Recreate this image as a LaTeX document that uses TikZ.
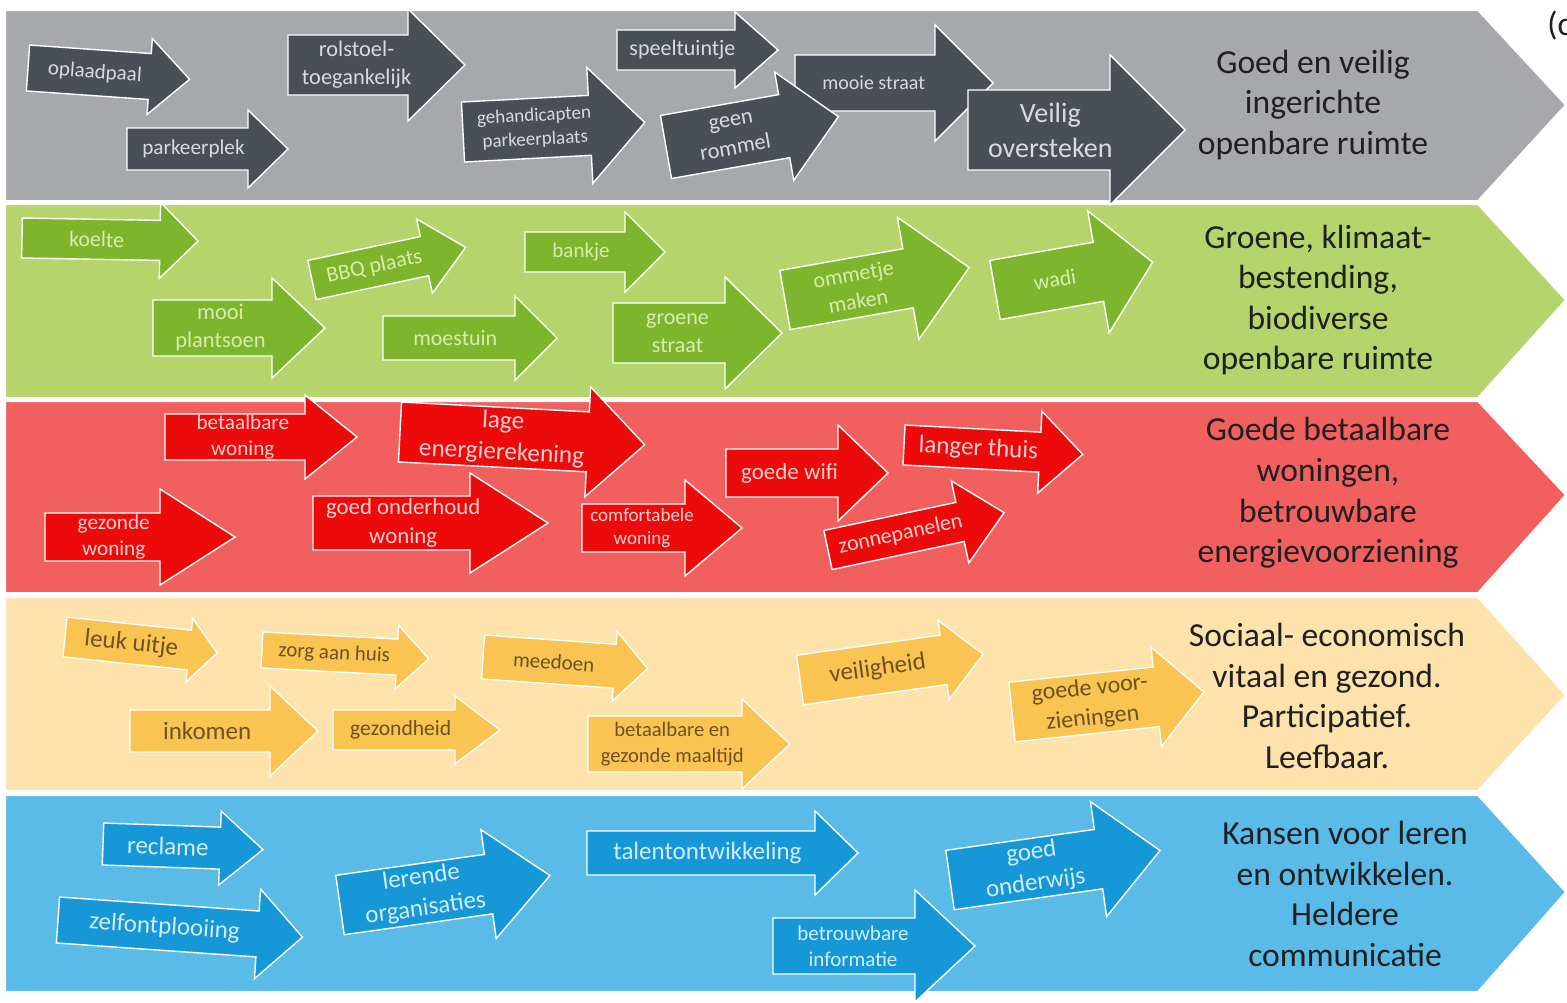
\documentclass[tikz,border=0pt]{standalone}
\usepackage{fontspec}
\setmainfont{Carlito}
\definecolor{gyband}{HTML}{A6A8AB}
\definecolor{gyarr}{HTML}{4A4F55}
\definecolor{gytext}{HTML}{D9DADB}
\definecolor{grband}{HTML}{B5D56C}
\definecolor{grarr}{HTML}{7DB62C}
\definecolor{grtext}{HTML}{D8ECB0}
\definecolor{rdband}{HTML}{F25F5F}
\definecolor{rdarr}{HTML}{EC0A0A}
\definecolor{rdtext}{HTML}{FFCFCF}
\definecolor{ylband}{HTML}{FDE3AB}
\definecolor{ylarr}{HTML}{F9C452}
\definecolor{yltext}{HTML}{6E5224}
\definecolor{blband}{HTML}{5ABBE8}
\definecolor{blarr}{HTML}{1597D8}
\definecolor{bltext}{HTML}{D2ECF9}
\definecolor{lbltext}{HTML}{202020}
\newcommand\fz[1]{\fontsize{#1}{\fpeval{1.25*#1}}\selectfont}
\pgfkeys{/barw/.cd,
 px/.store in=\bwX, py/.store in=\bwY, rot/.store in=\bwR,
 L/.store in=\bwL, bh/.store in=\bwB, hl/.store in=\bwHL, hh/.store in=\bwHH,
 fs/.store in=\bwF,
 c/.code={\tikzset{bwf/.style={#1},bwt/.style={#1txt}}}}
\newcommand\barw[3]{\begingroup
 \pgfkeys{/barw/.cd,rot=0,fs=10.5,#1}%
 \begin{scope}[shift={(\bwX,-\bwY)},rotate=\bwR]
  \path[bwf] (0,-\bwB) -- (\bwL,-\bwB) -- (\bwL,-\bwHH) -- ({\bwL+\bwHL},0) -- (\bwL,\bwHH) -- (\bwL,\bwB) -- (0,\bwB) -- cycle;
  \node[bwt,transform shape,font=\fz{\bwF}] (#2) at ({\bwL/2+0.15*\bwHL},0) {#3};
 \end{scope}\endgroup}
\tikzset{
 band/.style={draw=white,line width=1pt},
 arrbase/.style={draw=white,line width=0.7pt},
 txtbase/.style={align=center,inner sep=0pt},
 gy/.style={arrbase,fill=gyarr}, gytxt/.style={txtbase,text=gytext},
 gr/.style={arrbase,fill=grarr}, grtxt/.style={txtbase,text=grtext},
 rd/.style={arrbase,fill=rdarr}, rdtxt/.style={txtbase,text=rdtext},
 yl/.style={arrbase,fill=ylarr}, yltxt/.style={txtbase,text=yltext},
 bl/.style={arrbase,fill=blarr}, bltxt/.style={txtbase,text=bltext},
 lbl/.style={align=center,inner sep=0pt,text=lbltext,font=\fontsize{16.8}{20.3}\selectfont}
}
\begin{document}
\begin{tikzpicture}[x=0.5pt,y=0.5pt]
\useasboundingbox (0,0) rectangle (1567,-1002);
\clip (0,0) rectangle (1567,-1002);
\fill[white] (0,0) rectangle (1567,-1002);
% bands
\path[band,fill=gyband] (5,-10) -- (1478,-10) -- (1566,-105) -- (1478,-201) -- (5,-201) -- cycle;
\path[band,fill=grband] (5,-204) -- (1478,-204) -- (1566,-300) -- (1478,-398) -- (5,-398) -- cycle;
\path[band,fill=rdband] (5,-401) -- (1478,-401) -- (1566,-495) -- (1478,-593) -- (5,-593) -- cycle;
\path[band,fill=ylband] (5,-597) -- (1478,-597) -- (1566,-695) -- (1478,-791) -- (5,-791) -- cycle;
\path[band,fill=blband] (5,-795) -- (1478,-795) -- (1566,-892) -- (1478,-992) -- (5,-992) -- cycle;
\node[anchor=base west,inner sep=0pt,text=lbltext,font=\fontsize{16.8}{20.3}\selectfont] (cpart) at (1547,-35) {(c};
% gray band
\barw{c=gy,px=28,py=68,rot=-4,L=122,bh=23,hl=40,hh=38,fs=10.5}{oplaadpaal}{oplaadpaal}
\barw{c=gy,px=127,py=149,L=121,bh=21,hl=40,hh=39,fs=10.6}{parkeerplek}{parkeerplek}
\barw{c=gy,px=288,py=65,L=120,bh=30,hl=57,hh=56,fs=11.2}{rolstoel}{rolstoel-\\toegankelijk}
\barw{c=gy,px=463,py=132,rot=3,L=127,bh=30,hl=55,hh=58,fs=9.5}{gehandicapten}{gehandicapten\\parkeerplaats}
\barw{c=gy,px=617,py=50,L=118,bh=20,hl=43,hh=38,fs=11}{speeltuintje}{speeltuintje}
\barw{c=gy,px=795,py=83,L=140,bh=28,hl=58,hh=58,fs=10}{mooiestraat}{mooie straat}
\barw{c=gy,px=666,py=147,rot=10,L=120,bh=32,hl=55,hh=55,fs=11.2}{geenrommel}{geen\\rommel}
\barw{c=gy,px=968,py=130,L=142,bh=40,hl=75,hh=75,fs=14}{veilig}{Veilig\\oversteken}
\node[lbl] (lab1) at (1313,-105) {Goed en veilig\\ingerichte\\openbare ruimte};
% green band
\barw{c=gr,px=22,py=238,rot=-1,L=138,bh=20,hl=38,hh=38,fs=11}{koelte}{koelte}
\barw{c=gr,px=153,py=328,L=119,bh=28,hl=53,hh=50,fs=11.2}{plantsoen}{mooi\\plantsoen}
\barw{c=gr,px=312,py=280,rot=12,L=115,bh=20,hl=42,hh=38,fs=11}{bbq}{BBQ plaats}
\barw{c=gr,px=525,py=252,L=100,bh=20,hl=40,hh=40,fs=10.5}{bankje}{bankje}
\barw{c=gr,px=383,py=338,L=132,bh=22,hl=42,hh=42,fs=11}{moestuin}{moestuin}
\barw{c=gr,px=613,py=333,L=112,bh=30,hl=57,hh=56,fs=11}{groenestraat}{groene\\straat}
\barw{c=gr,px=785,py=300,rot=10,L=125,bh=30,hl=62,hh=62,fs=11}{ommetje}{ommetje\\maken}
\barw{c=gr,px=995,py=290,rot=10,L=105,bh=30,hl=55,hh=62,fs=11}{wadi}{wadi}
\node[lbl] (lab2) at (1318,-300) {Groene, klimaat-\\bestending,\\biodiverse\\openbare ruimte};
% red band
\barw{c=rd,px=165,py=437,L=140,bh=23,hl=52,hh=42,fs=10.6}{betaalbarewoning}{betaalbare\\woning}
\barw{c=rd,px=400,py=432,rot=-3,L=188,bh=30,hl=57,hh=55,fs=12.6}{energie}{lage\\energierekening}
\barw{c=rd,px=45,py=537,L=115,bh=24,hl=75,hh=48,fs=10.6}{gezondewoning}{gezonde\\woning}
\barw{c=rd,px=313,py=523,L=157,bh=27,hl=78,hh=50,fs=11.4}{onderhoud}{goed onderhoud\\woning}
\barw{c=rd,px=582,py=528,L=103,bh=24,hl=57,hh=48,fs=9.5}{comfortabel}{comfortabele\\woning}
\barw{c=rd,px=726,py=473,L=112,bh=24,hl=50,hh=48,fs=11.5}{wifi}{goede wifi}
\barw{c=rd,px=904,py=445,rot=-3,L=136,bh=20,hl=43,hh=41,fs=12.5}{langer}{langer thuis}
\barw{c=rd,px=828,py=550,rot=12,L=135,bh=20,hl=45,hh=42,fs=11}{zonnepanelen}{zonnepanelen}
\node[lbl] (lab3) at (1328,-493) {Goede betaalbare\\woningen,\\betrouwbare\\energievoorziening};
% yellow band
\barw{c=yl,px=65,py=637,rot=-6,L=125,bh=20,hl=28,hh=32,fs=12.5}{uitje}{leuk uitje}
\barw{c=yl,px=262,py=650,rot=-3,L=135,bh=18,hl=32,hh=32,fs=10.5}{zorg}{zorg aan huis}
\barw{c=yl,px=483,py=657,rot=-4,L=132,bh=22,hl=33,hh=35,fs=10.5}{meedoen}{meedoen}
\barw{c=yl,px=130,py=731,L=140,bh=21,hl=48,hh=45,fs=12.5}{inkomen}{inkomen}
\barw{c=yl,px=333,py=730,L=122,bh=20,hl=45,hh=34,fs=10.8}{gezondheid}{gezondheid}
\barw{c=yl,px=588,py=744,L=154,bh=28,hl=48,hh=45,fs=10.3}{maaltijd}{betaalbare en\\gezonde maaltijd}
\barw{c=yl,px=800,py=680,rot=8,L=145,bh=25,hl=40,hh=40,fs=12.5}{veiligheid}{veiligheid}
\barw{c=yl,px=1012,py=712,rot=6,L=145,bh=30,hl=48,hh=50,fs=12}{voorzieningen}{goede voor-\\zieningen}
\node[lbl] (lab4) at (1327,-696) {Sociaal- economisch\\vitaal en gezond.\\Participatief.\\Leefbaar.};
% blue band
\barw{c=bl,px=103,py=844,rot=-2,L=117,bh=21,hl=43,hh=37,fs=12.5}{reclame}{reclame}
\barw{c=bl,px=58,py=920,rot=-4,L=200,bh=23,hl=45,hh=45,fs=12.5}{zelfontplooiing}{zelfontplooiing}
\barw{c=bl,px=340,py=905,rot=8,L=150,bh=30,hl=62,hh=55,fs=12.5}{lerende}{lerende\\organisaties}
\barw{c=bl,px=587,py=853,L=228,bh=22,hl=43,hh=42,fs=12.5}{talent}{talentontwikkeling}
\barw{c=bl,px=773,py=946,L=142,bh=28,hl=60,hh=56,fs=10.5}{informatie}{betrouwbare\\informatie}
\barw{c=bl,px=950,py=880,rot=8,L=150,bh=30,hl=62,hh=58,fs=12.5}{onderwijs}{goed\\onderwijs}
\node[lbl] (lab5) at (1345,-894) {Kansen voor leren\\en ontwikkelen.\\Heldere\\communicatie};
\end{tikzpicture}
\end{document}
